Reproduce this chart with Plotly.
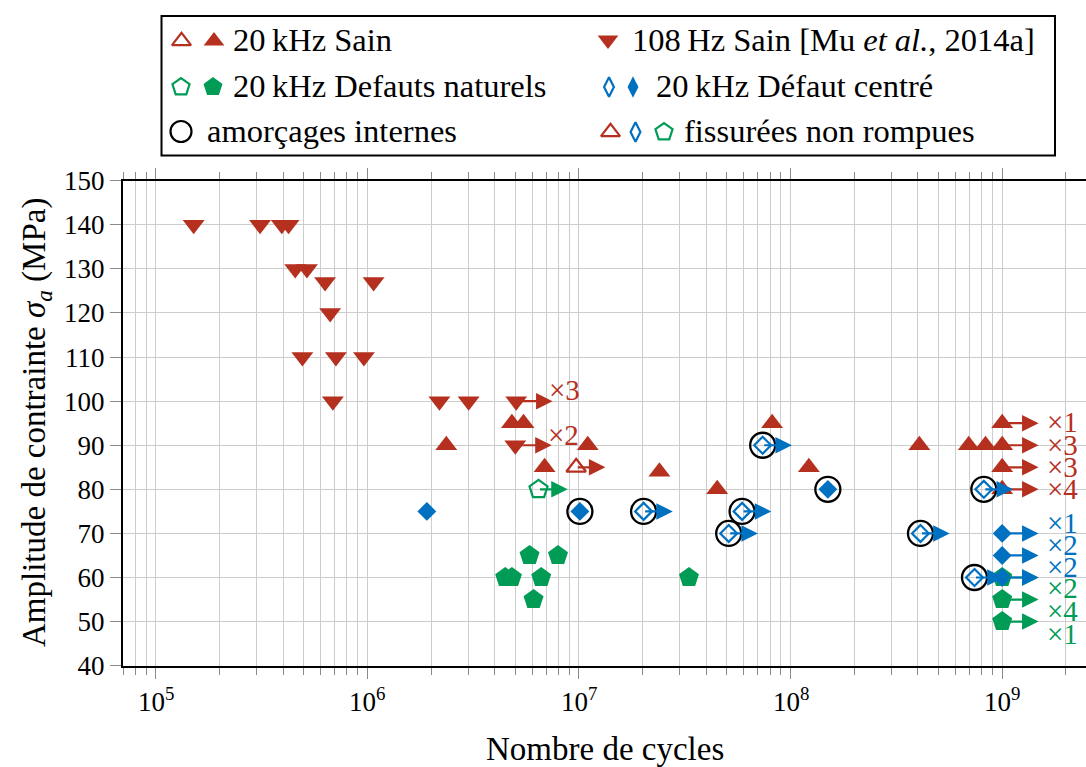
import math
import plotly.graph_objects as go

# ---------------------------------------------------------------- data
# 108 Hz, healthy material [Mu et al., 2014a] - failures
mu_cycles = [1.51e5, 3.11e5, 3.94e5, 4.24e5, 4.56e5, 5.18e5, 6.31e5, 1.07e6,
             6.67e5, 4.93e5, 7.10e5, 9.63e5, 6.87e5, 2.19e6, 3.01e6]
mu_stress = [140, 140, 140, 140, 130, 130, 127, 127,
             120, 110, 110, 110, 100, 100, 100]
# 108 Hz run-outs (number of specimens)
mu_runout_cycles = [5.05e6, 5.0e6]
mu_runout_stress = [100, 90]
mu_runout_count = [3, 2]

# 20 kHz, healthy material - failures
sain_cycles = [4.82e6, 5.47e6, 2.36e6, 1.10e7, 6.88e6, 2.40e7, 4.50e7,
               1.22e8, 8.18e7, 4.06e8, 6.95e8, 8.34e8]
sain_stress = [95, 95, 90, 90, 85, 84, 80, 85, 95, 90, 90, 90]
# cracked, not broken
sain_crack_cycles = [9.7e6]
sain_crack_stress = [85]
# run-outs
sain_runout_cycles = [1e9, 1e9, 1e9, 1e9]
sain_runout_stress = [95, 90, 85, 80]
sain_runout_count = [1, 3, 3, 4]

# 20 kHz, natural defects
nat_cycles = [5.84e6, 7.96e6, 4.48e6, 4.82e6, 6.63e6, 3.31e7, 6.10e6]
nat_stress = [65, 65, 60, 60, 60, 60, 55]
nat_crack_cycles = [6.44e6]
nat_crack_stress = [80]
nat_runout_cycles = [1e9, 1e9, 1e9]
nat_runout_stress = [60, 55, 50]
nat_runout_count = [2, 4, 1]

# 20 kHz, centred defect
cen_cycles = [1.91e6, 1.01e7, 1.50e8]
cen_stress = [75, 75, 80]
cen_crack_cycles = [2.02e7, 5.10e7, 5.90e7, 7.38e7, 4.11e8, 7.40e8, 8.19e8]
cen_crack_stress = [75, 70, 75, 90, 70, 60, 80]
cen_runout_cycles = [1e9, 1e9, 1e9]
cen_runout_stress = [70, 65, 60]
cen_runout_count = [1, 2, 2]

# internal crack initiation
int_cycles = [1.01e7, 2.02e7, 5.10e7, 5.90e7, 7.38e7, 1.50e8, 4.11e8, 7.40e8, 8.19e8]
int_stress = [75, 75, 70, 75, 90, 80, 70, 60, 80]

# axes
y_ticks = [40, 50, 60, 70, 80, 90, 100, 110, 120, 130, 140, 150]
x_tick_exponents = [5, 6, 7, 8, 9]

# ---------------------------------------------------------------- style
RED = "#B5301F"
BLUE = "#0070C0"
GREEN = "#009B55"
GRID = "#cdcdcd"
FONT = "Liberation Serif"
W, H = 1086, 767

# plot area in pixels
PX_L, PX_T, PX_B = 123, 180.7, 665.7
DECADE_PX = 211.6
X_MIN = math.log10(7e4)
X_MAX = X_MIN + (W - PX_L) / DECADE_PX

SHORT = 0.138   # arrow length (decades), cracked specimens
LONG = 0.172    # arrow length (decades), run-outs

fig = go.Figure()


def markers(x, y, symbol, color, size, lw=2.2):
    fig.add_trace(go.Scatter(
        x=x, y=y, mode="markers", showlegend=False, hoverinfo="skip",
        cliponaxis=False,
        marker=dict(symbol=symbol, size=size, color=color,
                    line=dict(width=lw if "open" in symbol else 0,
                              color=color))))


def arrows(cycles, stress, color, length):
    for n, s in zip(cycles, stress):
        x0 = math.log10(n)
        fig.add_annotation(x=x0 + length, y=s, ax=x0, ay=s,
                           xref="x", yref="y", axref="x", ayref="y",
                           text="", showarrow=True, arrowhead=2,
                           arrowsize=1.5, arrowwidth=2.2, arrowcolor=color,
                           standoff=0, startstandoff=0)


def counts(cycles, stress, number, color, dx, shifts):
    for n, s, c, sh in zip(cycles, stress, number, shifts):
        fig.add_annotation(x=math.log10(n) + dx, y=s + sh, xref="x", yref="y",
                           text=f"×{c}", showarrow=False, xanchor="left",
                           yanchor="middle",
                           font=dict(family=FONT, size=29, color=color))


TRI, DIA, PEN = 19, 14.5, 21

# green natural defects
markers(nat_cycles, nat_stress, "pentagon", GREEN, PEN)
markers(nat_crack_cycles, nat_crack_stress, "pentagon-open", GREEN, PEN - 2)
markers(nat_runout_cycles, nat_runout_stress, "pentagon", GREEN, PEN)
# red 108 Hz
markers(mu_cycles, mu_stress, "triangle-down", RED, TRI)
markers(mu_runout_cycles, mu_runout_stress, "triangle-down", RED, TRI)
# red 20 kHz
markers(sain_cycles, sain_stress, "triangle-up", RED, TRI)
markers(sain_crack_cycles, sain_crack_stress, "triangle-up-open", RED, TRI - 2)
markers(sain_runout_cycles, sain_runout_stress, "triangle-up", RED, TRI)
# blue centred defect
markers(cen_cycles, cen_stress, "diamond", BLUE, DIA)
markers(cen_crack_cycles, cen_crack_stress, "diamond-open", BLUE, DIA - 1.5)
markers(cen_runout_cycles, cen_runout_stress, "diamond", BLUE, DIA)
# internal initiation
markers(int_cycles, int_stress, "circle-open", "black", 25, lw=2.3)

# arrows (run-outs and cracked, unbroken specimens)
arrows(nat_crack_cycles, nat_crack_stress, GREEN, SHORT)
arrows(nat_runout_cycles, nat_runout_stress, GREEN, LONG)
arrows(mu_runout_cycles, mu_runout_stress, RED, LONG)
arrows(sain_crack_cycles, sain_crack_stress, RED, SHORT)
arrows(sain_runout_cycles, sain_runout_stress, RED, LONG)
arrows(cen_crack_cycles, cen_crack_stress, BLUE, SHORT)
arrows(cen_runout_cycles, cen_runout_stress, BLUE, LONG)

# specimen counts
counts(mu_runout_cycles, mu_runout_stress, mu_runout_count, RED, 0.145, [2.5, 2.4])
counts(sain_runout_cycles, sain_runout_stress, sain_runout_count, RED, 0.203,
       [0.2, 0.1, 0.1, 0.0])
counts(cen_runout_cycles, cen_runout_stress, cen_runout_count, BLUE, 0.203,
       [2.3, 2.4, 2.5])
counts(nat_runout_cycles, nat_runout_stress, nat_runout_count, GREEN, 0.203,
       [-2.4, -2.5, -2.7])

# x tick labels (powers of ten)
for e in x_tick_exponents:
    fig.add_annotation(x=e, y=1 - 700 / H, xref="x", yref="paper",
                       text=f"10<sup>{e}</sup>", showarrow=False,
                       xanchor="center", yanchor="middle",
                       font=dict(family=FONT, size=27, color="black"))

# ---------------------------------------------------------------- legend
LEG_KEYS = [  # x px, y px, symbol, colour, size
    (181.5, 41, "triangle-up-open", RED, 16.5),
    (214, 41, "triangle-up", RED, 18),
    (181, 87, "pentagon-open", GREEN, 18),
    (213, 87, "pentagon", GREEN, 20),
    (181, 131.5, "circle-open", "black", 21),
    (608, 40, "triangle-down", RED, 18),
    (609, 87, "diamond-tall-open", BLUE, 14),
    (633, 87, "diamond-tall", BLUE, 15.5),
    (610.5, 132, "triangle-up-open", RED, 16.5),
    (635.5, 132, "diamond-tall-open", BLUE, 14),
    (664, 132, "pentagon-open", GREEN, 18),
]
for kx, ky, sym, col, sz in LEG_KEYS:
    fig.add_trace(go.Scatter(
        x=[kx], y=[ky], xaxis="x2", yaxis="y2", mode="markers",
        showlegend=False, hoverinfo="skip", cliponaxis=False,
        marker=dict(symbol=sym, size=sz, color=col,
                    line=dict(width=2.2 if "open" in sym else 0, color=col))))

LEG_TEXT = [  # x px, y px, text
    (231, 40, "20\u2009kHz Sain"),
    (231, 86, "20\u2009kHz Defauts naturels"),
    (205, 131, "amorçages internes"),
    (630, 40, "108\u2009Hz Sain [Mu <i>et al.</i>, 2014a]"),
    (654, 86, "20\u2009kHz Défaut centré"),
    (682, 131, "fissurées non rompues"),
]
for tx, ty, txt in LEG_TEXT:
    fig.add_annotation(x=tx / W, y=1 - ty / H, xref="paper", yref="paper",
                       text=txt, showarrow=False, xanchor="left",
                       yanchor="middle",
                       font=dict(family=FONT, size=32.5, color="black"))

fig.add_shape(type="rect", xref="paper", yref="paper",
              x0=161.5 / W, x1=1055 / W, y0=1 - 155.5 / H, y1=1 - 16 / H,
              line=dict(color="black", width=2), fillcolor="rgba(0,0,0,0)")

# ---------------------------------------------------------------- titles
fig.add_annotation(x=(PX_L + W) / 2 / W, y=1 - 749 / H, xref="paper",
                   yref="paper", text="Nombre de cycles", showarrow=False,
                   xanchor="center", yanchor="middle",
                   font=dict(family=FONT, size=33, color="black"))
fig.add_annotation(x=36 / W, y=1 - 423 / H, xref="paper", yref="paper",
                   text="Amplitude de contrainte <i>σ</i><sub><i>a</i></sub> (MPa)",
                   showarrow=False, textangle=-90, xanchor="center",
                   yanchor="middle",
                   font=dict(family=FONT, size=33, color="black"))

# ---------------------------------------------------------------- axes
minor_vals = [k * 10 ** e for e in range(4, 10) for k in range(2, 10)]
minor_vals = [v for v in minor_vals if X_MIN - 1e-6 <= math.log10(v) <= X_MAX]

fig.update_layout(
    width=W, height=H,
    margin=dict(l=0, r=0, t=0, b=0, pad=0, autoexpand=False),
    paper_bgcolor="white", plot_bgcolor="rgba(0,0,0,0)", showlegend=False,
    xaxis=dict(
        type="log", domain=[PX_L / W, 1], range=[X_MIN, X_MAX],
        tickvals=[10 ** e for e in x_tick_exponents], showticklabels=False,
        ticks="outside", ticklen=11, tickwidth=1.3, tickcolor="#8a8a8a",
        showline=True, linecolor="black", linewidth=2, mirror="allticks",
        showgrid=True, gridcolor=GRID, gridwidth=1.3, zeroline=False,
        automargin=False,
        minor=dict(tickvals=minor_vals, ticks="outside", ticklen=7,
                   tickwidth=1.3, tickcolor="#8a8a8a", showgrid=True,
                   gridcolor=GRID, gridwidth=1.3),
    ),
    yaxis=dict(
        domain=[1 - PX_B / H, 1 - PX_T / H], range=[40, 150],
        tickvals=y_ticks, ticks="outside", ticklen=11, tickwidth=1.3,
        tickcolor="#8a8a8a", showline=True, linecolor="black", linewidth=2,
        mirror=False, showgrid=True, gridcolor=GRID, gridwidth=1.3,
        zeroline=False, automargin=False,
        tickfont=dict(family=FONT, size=27, color="black"),
    ),
    xaxis2=dict(domain=[0, 1], range=[0, W], visible=False, fixedrange=True,
                anchor="y2", automargin=False),
    yaxis2=dict(domain=[0, 1], range=[H, 0], visible=False, fixedrange=True,
                anchor="x2", automargin=False),
)

fig.write_html("out.html")
